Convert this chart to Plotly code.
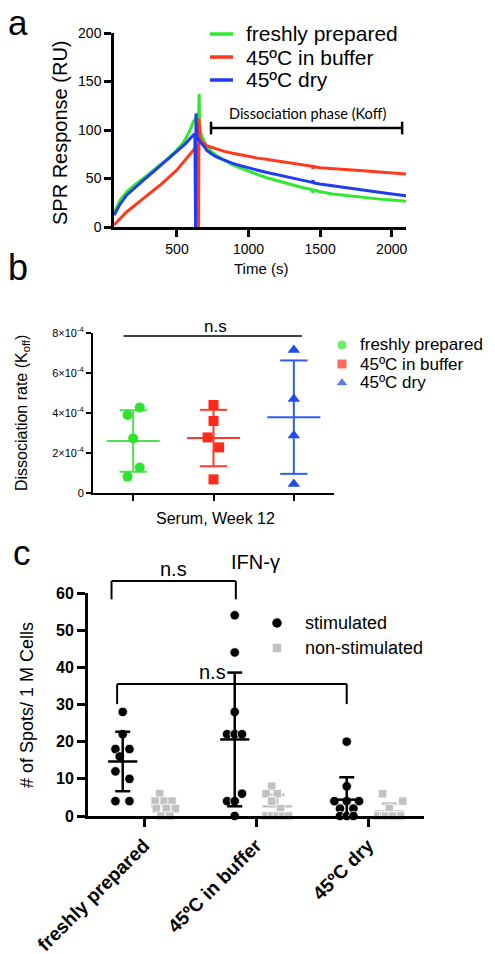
import numpy as np
import plotly.graph_objects as go

W, H = 495, 954          # browser window
OFF = 8                  # default page body margin
FW, FH = W - OFF, H - OFF  # figure size so that it fits the window exactly
FONT = "Liberation Sans, Arial, sans-serif"

# ---------------- Panel a: SPR sensorgram ----------------
spr_series = ["freshly prepared", "45ºC in buffer", "45ºC dry"]
time_fresh = [60, 80, 101, 148, 200, 264, 320, 381, 440, 498, 540, 568, 595, 614, 630, 645, 652, 655,
              658, 665, 675, 690, 708, 740, 772, 830, 889, 950, 1006, 1064, 1122, 1240, 1355, 1440,
              1450, 1458, 1498, 1589, 1700, 1822, 1900, 1997, 2100]
resp_fresh = [14, 20, 27.6, 36, 43, 50, 56.5, 63.8, 71, 79, 86, 93, 101, 108.6, 112, 115, 119, 137,
              106, 98, 93, 88, 83, 78, 74, 69, 64, 60.5, 57, 54, 51, 46, 41.5, 38.5,
              35.5, 38, 36.4, 34, 32, 30, 29, 27.8, 26.5]
time_buffer = [60, 148, 264, 381, 498, 614, 640, 648, 651, 654, 660, 680, 708, 772, 830, 889, 950,
               1006, 1064, 1122, 1240, 1355, 1445, 1450, 1455, 1498, 1589, 1700, 1822, 1950, 2100]
resp_buffer = [2, 15.5, 29.3, 43, 58.6, 79, 84, 85, 0, 112, 92, 87, 83.8, 80.4, 78, 76, 74,
               72.5, 71, 69.8, 67, 64.6, 62.5, 60, 62.3, 61.2, 60.5, 59, 57.7, 56, 54.6]
time_dry = [60, 100, 148, 200, 264, 320, 381, 440, 498, 560, 614, 625, 630, 633, 640, 660, 690, 708,
            740, 772, 830, 889, 950, 1006, 1064, 1122, 1240, 1355, 1445, 1450, 1455, 1498, 1589,
            1700, 1822, 1950, 2100]
resp_dry = [12, 23, 32.8, 40, 48, 55, 62.8, 70, 77.6, 86, 94.8, 96, 0, 117, 93, 88, 83, 79,
            75.5, 72.5, 69, 65.6, 63, 60.5, 58.5, 56.4, 52.5, 49, 46, 48, 45.5, 44.3, 42.3,
            40, 37.5, 35, 32.3]
a_xticks = [500, 1000, 1500, 2000]
a_yticks = [0, 50, 100, 150, 200]

# ---------------- Panel b: dissociation rate ----------------
koff_fresh = [3.90e-4, 4.28e-4, 2.73e-4, 1.27e-4, 0.82e-4]
koff_buffer = [4.40e-4, 3.60e-4, 2.78e-4, 2.28e-4, 0.68e-4]
koff_dry = [7.15e-4, 4.70e-4, 2.87e-4, 0.45e-4]
b_yticks = [0, 2e-4, 4e-4, 6e-4, 8e-4]
b_yticktext = ["0", "2×10<sup>-4</sup>", "4×10<sup>-4</sup>", "6×10<sup>-4</sup>", "8×10<sup>-4</sup>"]

# ---------------- Panel c: IFN-gamma ELISpot ----------------
c_groups = ["freshly prepared", "45ºC in buffer", "45ºC dry"]
stim_fresh = [28, 22, 18, 18, 16, 12, 10, 4, 4]
stim_buffer = [54, 44, 28, 22, 22, 22, 6, 4, 4, 0]
stim_dry = [20, 8, 4, 4, 4, 2, 2, 0, 0, 0]
nonstim_fresh = [6, 4, 4, 4, 2, 2, 2, 0, 0]
nonstim_buffer = [8, 6, 6, 4, 2, 0, 0, 0, 0, 0]
nonstim_dry = [6, 4, 2, 0, 0, 0, 0, 0, 0, 0]
c_yticks = [0, 10, 20, 30, 40, 50, 60]

# ---------------- styling / layout positions ----------------
GREEN_A, RED_A, BLUE_A = "#2fe82f", "#ff3a1c", "#1f3cf2"
GREEN_B, RED_B, BLUE_B = "#2ee32e", "#ff2a1a", "#1f4de8"
GREEN_BL, RED_BL, BLUE_BL = "#55dd55", "#ff3b2b", "#2f5cec"
GRAY = "#c2c2c2"

# jitter offsets (scatter spread of GraphPad-style column plots)
jit_b = [[-0.07, 0.082, 0.0, 0.082, -0.07], [0.0, 0.0, -0.074, 0.07, 0.0], [0, 0, 0, 0]]
jit_stim = [[0, 0, -0.065, 0.06, -0.027, -0.065, 0.06, -0.065, 0.06],
            [0, 0, 0, -0.068, 0, 0.065, 0.065, -0.068, 0, 0],
            [0, 0, -0.11, 0, 0.11, -0.06, 0.06, -0.06, 0, 0.06]]
jit_non = [[-0.05, -0.09, -0.01, 0.06, -0.08, 0.01, 0.09, -0.04, 0.04],
           [-0.05, -0.1, 0.0, -0.05, 0.03, -0.1, -0.05, 0.0, 0.05, 0.1],
           [-0.06, 0.12, 0.0, -0.1, -0.05, 0.0, 0.05, 0.1, -0.03, 0.03]]
STIM_SHIFT, NON_SHIFT = -0.19, 0.19

# window-pixel boxes of the three plot areas: (left, right, top, bottom)
BOX_A = (114, 406, 33, 227)
BOX_B = (93, 334, 333, 493)
BOX_C = (88, 424, 593, 816)


def PX(x):
    return (x - OFF) / FW


def PY(y):
    return 1 - (y - OFF) / FH


def dom(box):
    l, r, t, b = box
    return [PX(l), PX(r)], [PY(b), PY(t)]


def mean_sd(center, vals, half_mean, half_cap):
    m = float(np.mean(vals))
    s = float(np.std(vals, ddof=1))
    xs = [center - half_mean, center + half_mean, None, center, center, None,
          center - half_cap, center + half_cap, None, center - half_cap, center + half_cap]
    ys = [m, m, None, m - s, m + s, None, m + s, m + s, None, m - s, m - s]
    return xs, ys


fig = go.Figure()

# ---- panel a traces
for name, t, r, col in zip(spr_series, [time_fresh, time_buffer, time_dry],
                           [resp_fresh, resp_buffer, resp_dry], [GREEN_A, RED_A, BLUE_A]):
    fig.add_trace(go.Scatter(x=t, y=r, mode="lines", name=name, showlegend=False,
                             line=dict(color=col, width=3), xaxis="x", yaxis="y"))

# ---- panel b traces
b_sets = [koff_fresh, koff_buffer, koff_dry]
b_sym = ["circle", "square", "triangle-up"]
b_col = [GREEN_B, RED_B, BLUE_B]
b_lcol = [GREEN_BL, RED_BL, BLUE_BL]
b_size = [10, 10, 11]
for i, vals in enumerate(b_sets):
    xs, ys = mean_sd(i, vals, 0.33, 0.17)
    fig.add_trace(go.Scatter(x=xs, y=ys, mode="lines", line=dict(color=b_lcol[i], width=2),
                             showlegend=False, xaxis="x2", yaxis="y2"))
    fig.add_trace(go.Scatter(x=[i + o for o in jit_b[i]], y=vals, mode="markers", name=spr_series[i],
                             marker=dict(symbol=b_sym[i], size=b_size[i], color=b_col[i]),
                             showlegend=False, cliponaxis=False, xaxis="x2", yaxis="y2"))

# ---- panel c traces
stim_sets = [stim_fresh, stim_buffer, stim_dry]
non_sets = [nonstim_fresh, nonstim_buffer, nonstim_dry]
for i in range(3):
    xs, ys = mean_sd(i + NON_SHIFT, non_sets[i], 0.13, 0.067)
    fig.add_trace(go.Scatter(x=xs, y=ys, mode="lines", line=dict(color=GRAY, width=2.5),
                             showlegend=False, xaxis="x3", yaxis="y3"))
    fig.add_trace(go.Scatter(x=[i + NON_SHIFT + o for o in jit_non[i]], y=non_sets[i], mode="markers",
                             marker=dict(symbol="square", size=8.5, color=GRAY,
                                         line=dict(color="white", width=0.8)),
                             name="non-stimulated", showlegend=False, cliponaxis=False,
                             xaxis="x3", yaxis="y3"))
for i in range(3):
    fig.add_trace(go.Scatter(x=[i + STIM_SHIFT + o for o in jit_stim[i]], y=stim_sets[i], mode="markers",
                             marker=dict(symbol="circle", size=9.5, color="black",
                                         line=dict(color="white", width=0.8)),
                             name="stimulated", showlegend=False, cliponaxis=False,
                             xaxis="x3", yaxis="y3"))
    xs, ys = mean_sd(i + STIM_SHIFT, stim_sets[i], 0.13, 0.067)
    fig.add_trace(go.Scatter(x=xs, y=ys, mode="lines", line=dict(color="black", width=2.5),
                             showlegend=False, xaxis="x3", yaxis="y3"))

# ---- legend symbols (window-pixel overlay axis)
fig.add_trace(go.Scatter(x=[342, 342, 342], y=[345, 364, 383], mode="markers",
                         marker=dict(symbol=b_sym, size=b_size, color=b_col),
                         showlegend=False, xaxis="x4", yaxis="y4"))
fig.add_trace(go.Scatter(x=[277], y=[623], mode="markers",
                         marker=dict(symbol="circle", size=9.5, color="black"),
                         showlegend=False, xaxis="x4", yaxis="y4"))
fig.add_trace(go.Scatter(x=[277], y=[648], mode="markers",
                         marker=dict(symbol="square", size=8.5, color=GRAY),
                         showlegend=False, xaxis="x4", yaxis="y4"))

# ---- axes
ax_common = dict(showgrid=False, zeroline=False, showline=True, linecolor="black", automargin=False,
                 ticks="outside", tickcolor="black", fixedrange=True)
dxa, dya = dom(BOX_A)
dxb, dyb = dom(BOX_B)
dxc, dyc = dom(BOX_C)
fig.update_layout(
    template="none",
    xaxis=dict(ax_common, domain=dxa, range=[60, 2100], tickvals=a_xticks, anchor="y",
               linewidth=2.5, tickwidth=2.5, ticklen=7,
               tickfont=dict(family=FONT, size=14, color="black")),
    yaxis=dict(ax_common, domain=dya, range=[0, 200], tickvals=a_yticks, anchor="x",
               linewidth=2.5, tickwidth=2.5, ticklen=7,
               tickfont=dict(family=FONT, size=14, color="black")),
    xaxis2=dict(ax_common, domain=dxb, range=[-0.5, 2.5], tickvals=[0, 1, 2], showticklabels=False,
                anchor="y2", linewidth=2, tickwidth=2, ticklen=6),
    yaxis2=dict(ax_common, domain=dyb, range=[0, 8e-4], tickvals=b_yticks, ticktext=b_yticktext,
                anchor="x2", linewidth=2, tickwidth=2, ticklen=5,
                tickfont=dict(family=FONT, size=11, color="black")),
    xaxis3=dict(ax_common, domain=dxc, range=[-0.5, 2.5], tickvals=[0, 1, 2], ticktext=c_groups,
                tickangle=-45, anchor="y3", linewidth=3, tickwidth=3, ticklen=8,
                tickfont=dict(family=FONT, size=19, color="black", weight="bold")),
    yaxis3=dict(ax_common, domain=dyc, range=[0, 60], tickvals=c_yticks, anchor="x3",
                linewidth=3, tickwidth=3, ticklen=8,
                tickfont=dict(family=FONT, size=16, color="black", weight="bold")),
    xaxis4=dict(domain=[0, 1], range=[OFF, W], visible=False, anchor="y4", fixedrange=True,
                automargin=False),
    yaxis4=dict(domain=[0, 1], range=[H, OFF], visible=False, anchor="x4", fixedrange=True,
                automargin=False),
    width=FW, height=FH, margin=dict(l=0, r=0, t=0, b=0, pad=0), autosize=False,
    paper_bgcolor="white", plot_bgcolor="rgba(0,0,0,0)", showlegend=False,
)


def ann(text, x, y, size, xanchor="center", angle=0, family=FONT, weight="normal"):
    return dict(text=text, x=PX(x), y=PY(y), xref="paper", yref="paper", showarrow=False,
                xanchor=xanchor, yanchor="middle", textangle=angle,
                font=dict(family=family, size=size, color="black", weight=weight))


annotations = [
    ann("a", 18, 23, 35), ann("b", 18, 267, 36), ann("c", 22, 552, 35),
    ann("SPR Response (RU)", 60, 133, 20, angle=-90),
    ann("Time (s)", 261, 268, 15),
    ann("Dissociation phase (Koff)", 307, 113, 14.5, family="Lato, Open Sans, sans-serif"),
    ann("Dissociation rate (K<sub>off</sub>)", 22, 413, 16, angle=-90),
    ann("Serum, Week 12", 215, 518, 16),
    ann("n.s", 215, 327, 17),
    ann("IFN-γ", 255, 562, 20),
    ann("# of Spots/ 1 M Cells", 27, 705, 18, angle=-90),
    ann("n.s", 173, 569, 20),
    ann("n.s", 212, 672, 20),
    ann("stimulated", 303, 623, 18, xanchor="left"),
    ann("non-stimulated", 303, 648, 18, xanchor="left"),
]
for name, yy in zip(spr_series, [34, 57, 80]):
    annotations.append(ann(name, 244, yy, 21, xanchor="left"))
for name, yy in zip(spr_series, [345, 364, 383]):
    annotations.append(ann(name, 358, yy, 17, xanchor="left"))
fig.update_layout(annotations=annotations)


def pline(x0, y0, x1, y1, color="black", width=2):
    return dict(type="line", xref="paper", yref="paper", x0=PX(x0), y0=PY(y0),
                x1=PX(x1), y1=PY(y1), line=dict(color=color, width=width))


def c2p(x, y):
    l, r, t, b = BOX_C
    return l + (x + 0.5) / 3 * (r - l), b - y / 60 * (b - t)


shapes = []
# legend lines, panel a
for col, yy in zip([GREEN_A, RED_A, BLUE_A], [34, 57, 80]):
    shapes.append(pline(210, yy, 233, yy, color=col, width=3.5))
# dissociation-phase bar (data coords, panel a)
for x0, y0, x1, y1 in [(738, 102, 2073, 102), (738, 95.5, 738, 108.5), (2073, 95.5, 2073, 108.5)]:
    shapes.append(dict(type="line", xref="x", yref="y", x0=x0, y0=y0, x1=x1, y1=y1,
                       line=dict(color="black", width=2.5)))
# n.s line panel b
shapes.append(dict(type="line", xref="x2", yref="y2", x0=-0.12, x1=2.1, y0=7.85e-4, y1=7.85e-4,
                   line=dict(color="black", width=1.5)))
# brackets panel c
for (xa, xb, ytop, yleg) in [(-0.29, 0.82, 63.2, 58.3), (-0.24, 1.81, 35.5, 30.1)]:
    p1 = c2p(xa, yleg); p2 = c2p(xa, ytop); p3 = c2p(xb, ytop); p4 = c2p(xb, yleg)
    shapes.append(pline(*p1, *p2, width=2))
    shapes.append(pline(*p2, *p3, width=2))
    shapes.append(pline(*p3, *p4, width=2))
fig.update_layout(shapes=shapes)

fig.write_html("out.html")
